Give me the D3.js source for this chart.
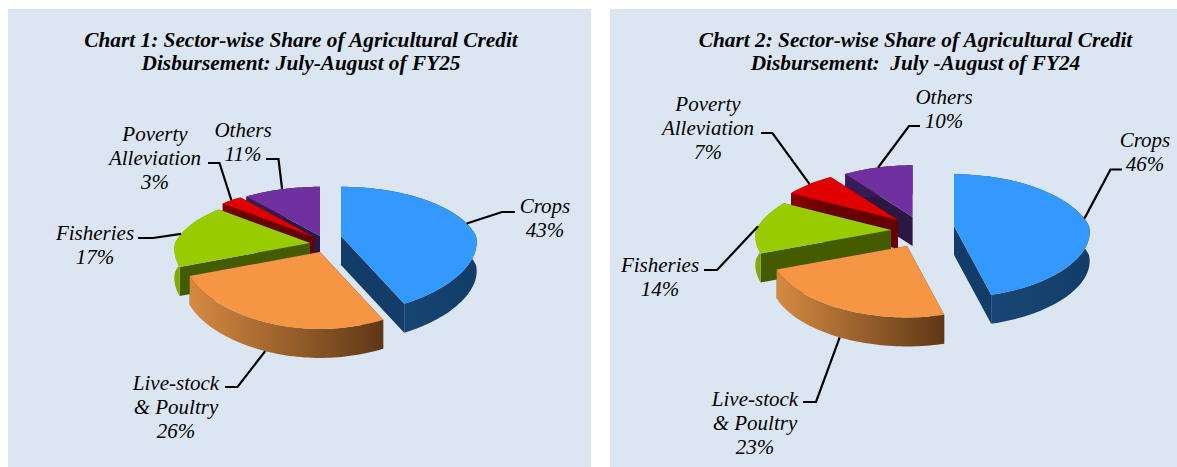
<!DOCTYPE html>
<html>
<head>
<meta charset="utf-8">
<script src="https://d3js.org/d3.v7.min.js"></script>
<style>
  body { margin: 0; background: #fff; }
  svg { display: block; }
  text { font-family: "Liberation Serif", serif; font-style: italic; fill: #000; }
  .title { font-weight: bold; font-size: 21.3px; }
  .lab { font-size: 21px; }
</style>
</head>
<body>
<svg id="chart" width="1177" height="467"></svg>
<script>
const categories = ['Crops', 'Live-stock & Poultry', 'Fisheries', 'Poverty Alleviation', 'Others']
const labelLines = [['Crops'], ['Live-stock', '& Poultry'], ['Fisheries'], ['Poverty', 'Alleviation'], ['Others']]
const sharesFY25 = [43, 26, 17, 3, 11]
const sharesFY24 = [46, 23, 14, 7, 10]
const titleFY25 = ['Chart 1: Sector-wise Share of Agricultural Credit', 'Disbursement: July-August of FY25']
const titleFY24 = ['Chart 2: Sector-wise Share of Agricultural Credit', 'Disbursement:  July -August of FY24']

const topColors = ['#3399ff', '#f69543', '#99cc00', '#e00000', '#7030a0']
const edgeColors = ['#133d68', '#633a18', '#435c00', '#660000', '#2c1642']
const rimColors = [['#1a4a7a', '#133d68'], ['#d58a42', '#5f3716'], ['#84ad00', '#5f8000'], ['#8a0000', '#660000'], ['#3a1c58', '#2c1642']]

const charts = [
    {
        id: 'a', values: sharesFY25, title: titleFY25, panel: [8, 9, 583, 458], titleX: 301,
        rx: 135, ry: 60, k: 0.22, kx: 0.1, kb: 0.22, depth: 29,
        centers: [[341, 236], [320, 252], [310, 243], [314, 237], [320, 236]],
        labels: [[545, 213], [176, 389.5], [95, 240], [155, 140.5], [243, 136.5]],
        elbows: [[[502, 212], [515, 212]], [[237.5, 387], [225, 387]], [[153, 238], [138, 238]], [[219.5, 163], [208, 163]], [[278.5, 159], [266, 159]]]
    },
    {
        id: 'b', values: sharesFY24, title: titleFY24, panel: [610, 9, 567, 458], titleX: 915.5,
        rx: 135, ry: 60, k: 0.16, kx: 0.1, kb: 0.22, depth: 29,
        centers: [[954, 226], [907, 246], [891, 230], [898, 220], [912.6, 217]],
        labels: [[1145, 146.5], [755, 405.5], [660, 271.5], [708, 110.5], [944, 103.5]],
        elbows: [[[1110.5, 169.5], [1122, 169.5]], [[816, 402], [803, 402]], [[717, 270], [704, 270]], [[772.4, 133], [761, 133]], [[909, 126], [920, 126]]]
    }
]

const svg = d3.select('#chart')
const defs = svg.append('defs')
const pie = d3.pie().sort(null)
const outline = d3.line().curve(d3.curveLinear)

// tilted disc: front of the pie comes out larger than the back
function project(c, center, angle, r) {
    const x = Math.sin(angle) * r
    const y = -Math.cos(angle) * r
    const wx = y < 0 ? 1 - c.kb * y : 1 - c.kx * y
    return [center[0] + c.rx * x / wx, center[1] + c.ry * y / (1 - c.k * y)]
}

function shifted(p, c) { return [p[0], p[1] + c.depth] }

charts.forEach(function (c) {
    const g = svg.append('g')
    g.append('rect').attr('x', c.panel[0]).attr('y', c.panel[1]).attr('width', c.panel[2]).attr('height', c.panel[3]).attr('fill', '#dce6f2')

    c.title.forEach(function (t, i) {
        g.append('text').attr('class', 'title').attr('x', c.titleX).attr('y', 46.5 + i * 23.7).attr('text-anchor', 'middle').attr('xml:space', 'preserve').text(t)
    })

    const arcs = pie(c.values)

    // back slices first so the front ones paint over them
    d3.range(arcs.length - 1, -1, -1).forEach(function (i) {
        const a = arcs[i]
        const center = c.centers[i]
        const steps = Math.max(4, Math.ceil((a.endAngle - a.startAngle) * 40))
        const rim = d3.range(steps + 1).map(function (s) {
            return project(c, center, a.startAngle + (a.endAngle - a.startAngle) * s / steps, 1)
        })
        const xs = d3.extent(rim, function (p) { return p[0] })
        const gradId = 'rim-' + c.id + i
        const grad = defs.append('linearGradient').attr('id', gradId).attr('gradientUnits', 'userSpaceOnUse')
            .attr('x1', xs[0]).attr('x2', xs[1]).attr('y1', 0).attr('y2', 0)
        grad.append('stop').attr('offset', 0).attr('stop-color', rimColors[i][0])
        grad.append('stop').attr('offset', 1).attr('stop-color', rimColors[i][1])

        const slice = g.append('g')
        // radial side walls
        ;[rim[0], rim[rim.length - 1]].forEach(function (p) {
            slice.append('path')
                .attr('d', outline([center, p, shifted(p, c), shifted(center, c)]) + 'Z')
                .attr('fill', edgeColors[i])
        })
        // outer wall
        slice.append('path')
            .attr('d', outline(rim.concat(rim.map(function (p) { return shifted(p, c) }).reverse())) + 'Z')
            .attr('fill', 'url(#' + gradId + ')')
        // top face
        slice.append('path')
            .attr('d', outline([center].concat(rim)) + 'Z')
            .attr('fill', topColors[i])
    })

    arcs.forEach(function (a, i) {
        const mid = (a.startAngle + a.endAngle) / 2
        let start = project(c, c.centers[i], mid, 1)
        if (i === 1) { start = shifted(start, c) }
        g.append('path')
            .attr('d', outline([start].concat(c.elbows[i])))
            .attr('fill', 'none').attr('stroke', '#000').attr('stroke-width', 2.2)

        const lines = labelLines[i].concat([c.values[i] + '%'])
        lines.forEach(function (t, j) {
            g.append('text').attr('class', 'lab').attr('x', c.labels[i][0]).attr('y', c.labels[i][1] + j * 24.3)
                .attr('text-anchor', 'middle').text(t)
        })
    })
})
</script>
</body>
</html>
